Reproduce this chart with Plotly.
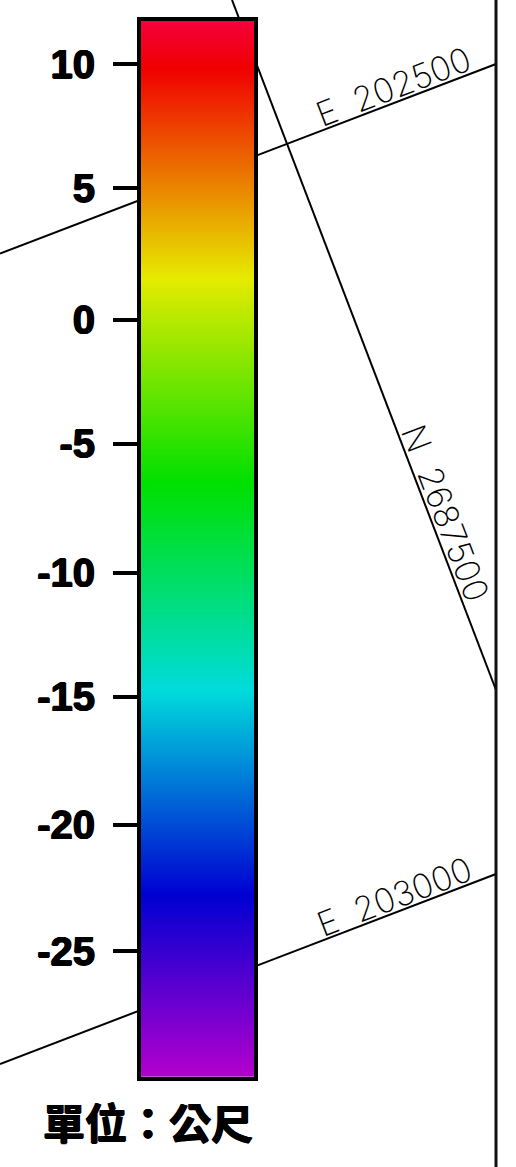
import plotly.graph_objects as go

# legend scale
tick_values = [10, 5.11, -0.09, -4.98, -10.07, -14.96, -20.01, -25]
tick_labels = ["10", "5", "0", "-5", "-10", "-15", "-20", "-25"]
scale_levels = [11.71, 9.84, 1.56, -6.52, -14.68, -22.77, -29.95]
scale_colors = ["#f5003c", "#f00000", "#e6eb00", "#00e000", "#00dcdc", "#0000d2", "#b400cd"]
scale_min, scale_max = -29.95, 11.71
unit_label = "單位\uff1a公尺"

# map grid lines (page pixels)
grid_e202500_x = [0, 496]
grid_e202500_y = [253.5, 64]
grid_e203000_x = [0, 496]
grid_e203000_y = [1064, 874]
grid_n2687500_x = [232, 496]
grid_n2687500_y = [0, 690]

def frac(v):
    return (v - scale_min) / (scale_max - scale_min)

colorscale = [[frac(v), c] for v, c in sorted(zip(scale_levels, scale_colors))]

fig = go.Figure()
for xs, ys in [(grid_e202500_x, grid_e202500_y), (grid_e203000_x, grid_e203000_y), (grid_n2687500_x, grid_n2687500_y)]:
    fig.add_trace(go.Scatter(x=xs, y=ys, mode="lines", line=dict(color="black", width=2),
                             hoverinfo="skip", showlegend=False, xaxis="x", yaxis="y"))
fig.add_trace(go.Scatter(x=[496, 496], y=[0, 1167], mode="lines", line=dict(color="#111111", width=3),
                         hoverinfo="skip", showlegend=False, xaxis="x", yaxis="y"))

levels = [scale_max + 0.5 - i * (scale_max - scale_min + 1) / 200 for i in range(201)]
fig.add_trace(go.Heatmap(x=[-1, 2], y=levels, z=[[v, v] for v in levels], colorscale=colorscale,
                         zmin=scale_min, zmax=scale_max, zsmooth="best", showscale=False,
                         xaxis="x2", yaxis="y2"))

W, H = 516, 1167
fatten = "0.7px 0 0 black, -0.7px 0 0 black, 0 0.5px 0 black, 0 -0.5px 0 black"
grid_font = dict(family="Inter", size=34, color="black", weight=200)
annos = [
    dict(x=393, y=86, text="E\u00a0\u00a0202500", textangle=-21, xref="x", yref="y", showarrow=False, font=grid_font),
    dict(x=394, y=896, text="E\u00a0\u00a0203000", textangle=-21, xref="x", yref="y", showarrow=False, font=grid_font),
    dict(x=446, y=513, text="N\u00a0\u00a02687500", textangle=69, xref="x", yref="y", showarrow=False, font=grid_font),
    dict(x=148, y=1120, text=unit_label, xref="x", yref="y", showarrow=False,
         font=dict(family="Noto Sans CJK TC", size=42, color="black", weight="bold", shadow=fatten)),
]
fig.update_layout(
    width=W, height=H, margin=dict(l=0, r=0, t=0, b=0), paper_bgcolor="white", plot_bgcolor="rgba(0,0,0,0)",
    xaxis=dict(domain=[0, 1], range=[0, W], visible=False, fixedrange=True),
    yaxis=dict(domain=[0, 1], range=[H, 0], visible=False, fixedrange=True),
    xaxis2=dict(domain=[141 / W, 254 / W], range=[0, 1], anchor="y2", showticklabels=False, ticks="",
                showline=True, linecolor="black", linewidth=4, mirror=True, showgrid=False, zeroline=False),
    yaxis2=dict(domain=[1 - 1077 / H, 1 - 20.7 / H], range=[scale_min, scale_max], anchor="x2",
                tickmode="array", tickvals=tick_values, ticktext=tick_labels, ticks="outside", ticklen=24,
                tickwidth=4, tickcolor="black", showline=True, linecolor="black", linewidth=4, mirror=True,
                showgrid=False, zeroline=False, ticklabelstandoff=10,
                tickfont=dict(family="Liberation Sans", size=40, color="black", weight="bold", shadow=fatten)),
    annotations=annos,
    showlegend=False,
)
fig.write_html("out.html", post_script="document.body.style.margin='0';", config=dict(displayModeBar=False))
